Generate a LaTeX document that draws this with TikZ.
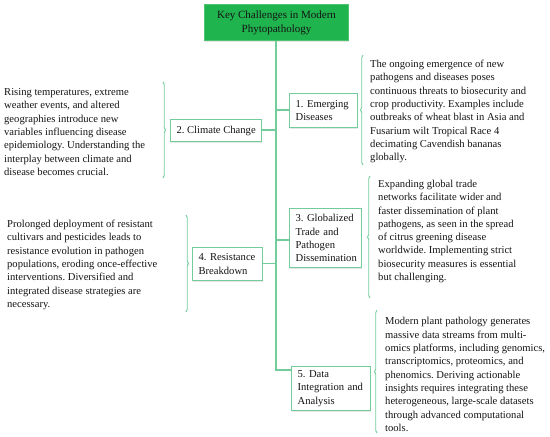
\documentclass[tikz,border=0pt]{standalone}
\usepackage{fontspec}
\setmainfont{Liberation Serif}
\usetikzlibrary{decorations.pathreplacing,shadows}
\definecolor{mint}{RGB}{115,205,155}
\definecolor{titlegreen}{RGB}{32,180,78}
\definecolor{txt}{RGB}{20,20,20}
\tikzset{
  every node/.style={font=\fontsize{10.6}{13.3}\selectfont\frenchspacing, text=txt},
  box/.style={draw=mint, line width=1.2pt, fill=white, anchor=north west, align=left,
    inner xsep=6pt, inner ysep=4pt, drop shadow={opacity=0.2, shadow xshift=0.8pt, shadow yshift=-1.2pt}},
  titlebox/.style={draw=titlegreen!80!white, line width=1pt, fill=titlegreen, anchor=north west,
    align=center, font=\fontsize{11}{14}\selectfont,
    drop shadow={opacity=0.2, shadow xshift=0.8pt, shadow yshift=-1.2pt}},
  desc/.style={align=left, inner sep=0pt, anchor=west},
  conn/.style={draw=mint, line width=1.2pt},
  brc/.style={draw=mint, line width=0.9pt, decorate, decoration={brace, amplitude=2.5pt, aspect=0.5}}
}
\begin{document}
\begin{tikzpicture}[x=1pt,y=-1pt]
\useasboundingbox (0,0) rectangle (550,437);
% title
\node[titlebox, minimum width=144pt, minimum height=36pt] (title) at (204,4)
  {Key Challenges in Modern\\Phytopathology};
% boxes
\node[box, minimum width=68pt, minimum height=34pt, text width=56pt] (b1) at (289,93) {1. Emerging\\Diseases};
\node[box, minimum width=91pt, minimum height=22pt, inner xsep=3pt] (b2) at (170,119) {2. Climate Change};
\node[box, minimum width=72pt, minimum height=59pt, text width=60pt] (b3) at (289,208) {3. Globalized\\Trade and\\Pathogen\\Dissemination};
\node[box, minimum width=70pt, minimum height=33pt, text width=58pt] (b4) at (192,247) {4. Resistance\\Breakdown};
\node[box, minimum width=79pt, minimum height=38pt, text width=67pt] (b5) at (291,366) {5. Data\\Integration and\\Analysis};
% descriptions
\node[desc] (d1) at (370,111.5) {The ongoing emergence of new\\pathogens and diseases poses\\continuous threats to biosecurity and\\crop productivity. Examples include\\outbreaks of wheat blast in Asia and\\Fusarium wilt Tropical Race 4\\decimating Cavendish bananas\\globally.};
\node[desc] (d2) at (4,132) {Rising temperatures, extreme\\weather events, and altered\\geographies introduce new\\variables influencing disease\\epidemiology. Understanding the\\interplay between climate and\\disease becomes crucial.};
\node[desc] (d3) at (378,231.5) {Expanding global trade\\networks facilitate wider and\\faster dissemination of plant\\pathogens, as seen in the spread\\of citrus greening disease\\worldwide. Implementing strict\\biosecurity measures is essential\\but challenging.};
\node[desc] (d4) at (7,265) {Prolonged deployment of resistant\\cultivars and pesticides leads to\\resistance evolution in pathogen\\populations, eroding once-effective\\interventions. Diversified and\\integrated disease strategies are\\necessary.};
\node[desc] (d5) at (385,374.5) {Modern plant pathology generates\\massive data streams from multi-\\omics platforms, including genomics,\\transcriptomics, proteomics, and\\phenomics. Deriving actionable\\insights requires integrating these\\heterogeneous, large-scale datasets\\through advanced computational\\tools.};
% connectors
\coordinate (j1) at (276,110);
\coordinate (j2) at (276,130);
\coordinate (j3) at (276,240);
\coordinate (j4) at (276,263.5);
\coordinate (j5) at (276,370);
\draw[conn] (title.south -| j5) -- (j5) -- (j5 -| b5.west);
\draw[conn] (j1) -- (j1 -| b1.west);
\draw[conn] (j2) -- (j2 -| b2.east);
\draw[conn] (j3) -- (j3 -| b3.west);
\draw[conn] (j4) -- (j4 -| b4.east);
% braces
\coordinate (k1a) at (363,165); \coordinate (k1b) at (363,55);
\coordinate (k2a) at (163,82);  \coordinate (k2b) at (163,178);
\coordinate (k3a) at (370,298); \coordinate (k3b) at (370,176);
\coordinate (k4a) at (186,215); \coordinate (k4b) at (186,312);
\coordinate (k5a) at (377,433); \coordinate (k5b) at (377,310);
\draw[brc] (k1a) -- (k1b);
\draw[brc] (k2a) -- (k2b);
\draw[brc] (k3a) -- (k3b);
\draw[brc] (k4a) -- (k4b);
\draw[brc] (k5a) -- (k5b);
\end{tikzpicture}
\end{document}
